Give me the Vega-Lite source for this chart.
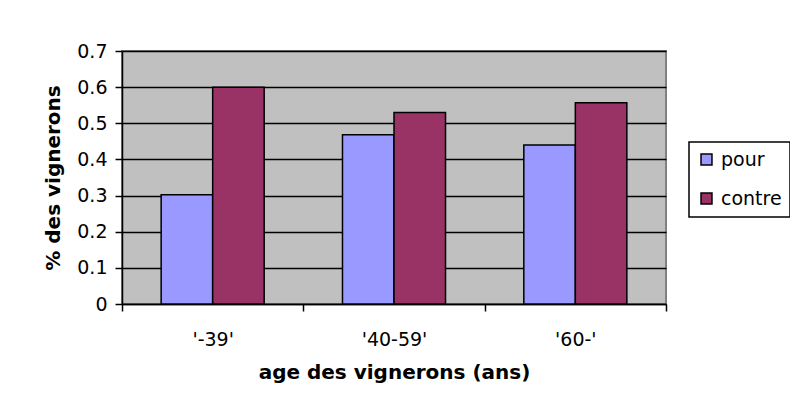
{
  "$schema": "https://vega.github.io/schema/vega-lite/v6.json",
  "width": 544,
  "height": 253,
  "autosize": {"type": "none"},
  "padding": {"left": 122, "top": 51, "right": 124, "bottom": 115},
  "background": "white",
  "data": {
    "values": [
      {"age": "'-39'", "avis": "pour", "part": 0.302},
      {"age": "'-39'", "avis": "contre", "part": 0.6},
      {"age": "'40-59'", "avis": "pour", "part": 0.468},
      {"age": "'40-59'", "avis": "contre", "part": 0.53},
      {"age": "'60-'", "avis": "pour", "part": 0.44},
      {"age": "'60-'", "avis": "contre", "part": 0.557}
    ]
  },
  "mark": {"type": "bar", "stroke": "black", "strokeWidth": 1.5},
  "encoding": {
    "x": {
      "field": "age",
      "type": "nominal",
      "sort": ["'-39'", "'40-59'", "'60-'"],
      "scale": {"paddingInner": 0, "paddingOuter": 0},
      "axis": {
        "title": "age des vignerons (ans)",
        "labelAngle": 0,
        "tickBand": "extent",
        "tickSize": 7,
        "tickColor": "black",
        "tickWidth": 1.5,
        "domainColor": "black",
        "domainWidth": 1.5,
        "labelPadding": 19,
        "titlePadding": 13
      }
    },
    "xOffset": {"field": "avis", "type": "nominal", "sort": ["pour", "contre"], "scale": {"paddingInner": 0, "paddingOuter": 0.76}},
    "y": {
      "field": "part",
      "type": "quantitative",
      "scale": {"domain": [0, 0.7], "nice": false},
      "axis": {
        "title": "% des vignerons",
        "values": [0, 0.1, 0.2, 0.3, 0.4, 0.5, 0.6, 0.7],
        "format": "~g",
        "grid": true,
        "gridColor": "black",
        "gridWidth": 1.3,
        "tickSize": 7,
        "tickColor": "black",
        "tickWidth": 1.5,
        "domainColor": "black",
        "domainWidth": 1.5,
        "labelPadding": 8,
        "titlePadding": 13
      }
    },
    "color": {
      "field": "avis",
      "type": "nominal",
      "scale": {"domain": ["pour", "contre"], "range": ["#9999FF", "#993366"]},
      "legend": {
        "title": null,
        "orient": "none",
        "legendX": 567,
        "legendY": 91,
        "strokeColor": "black",
        "padding": 8,
        "symbolType": "square",
        "symbolSize": 120,
        "symbolStrokeColor": "black",
        "symbolStrokeWidth": 1.5,
        "symbolOpacity": 1,
        "labelFontSize": 19,
        "labelFont": "DejaVu Sans",
        "labelColor": "black",
        "labelOffset": 5,
        "rowPadding": 19
      }
    }
  },
  "config": {
    "view": {"fill": "#C0C0C0", "stroke": "#808080", "strokeWidth": 2},
    "legend": {"strokeWidth": 1.5},
    "axis": {
      "labelFont": "DejaVu Sans",
      "labelFontSize": 19,
      "labelColor": "black",
      "titleFont": "DejaVu Sans",
      "titleFontSize": 20,
      "titleFontWeight": "bold",
      "titleColor": "black"
    }
  }
}
